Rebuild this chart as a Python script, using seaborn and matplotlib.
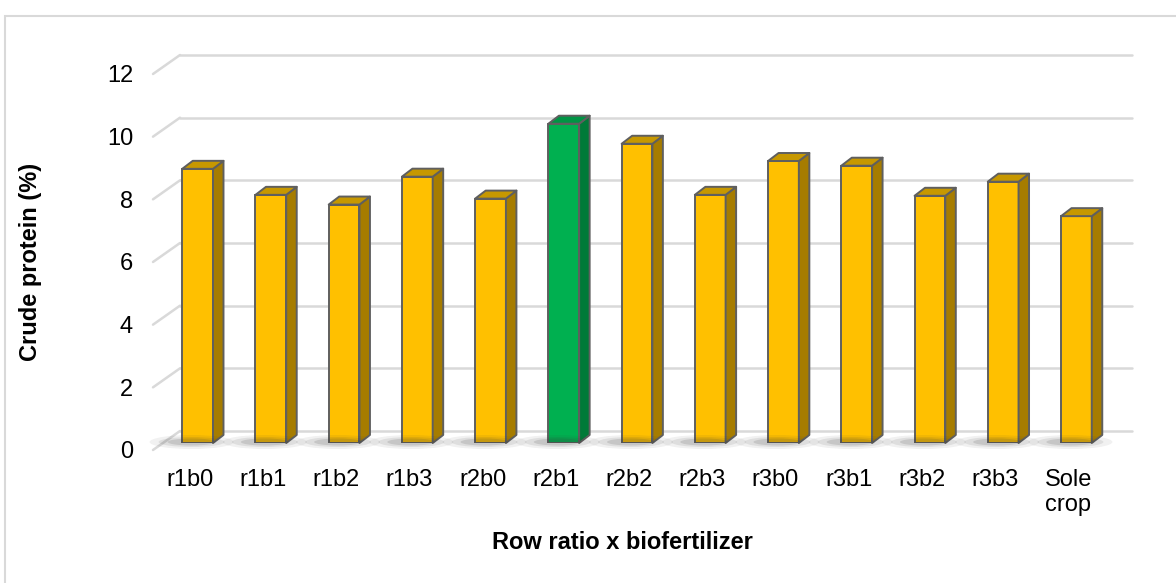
import numpy as np
import pandas as pd
import matplotlib.pyplot as plt
import seaborn as sns
from matplotlib.patches import Polygon, Ellipse, Rectangle
from matplotlib.transforms import ScaledTranslation, IdentityTransform

# data
categories = ['r1b0', 'r1b1', 'r1b2', 'r1b3', 'r2b0', 'r2b1', 'r2b2',
              'r2b3', 'r3b0', 'r3b1', 'r3b2', 'r3b3', 'Sole\ncrop']
protein = [8.75, 7.92, 7.61, 8.50, 7.80, 10.19, 9.55, 7.92, 9.00, 8.85, 7.89, 8.34, 7.24]
highlight = 'r2b1'
yticks = [0, 2, 4, 6, 8, 10, 12]

sns.set_theme(style='white')
plt.rcParams['font.family'] = ['Liberation Sans', 'DejaVu Sans']

W, H, DPI = 1176, 583, 100
fig = plt.figure(figsize=(W / DPI, H / DPI), dpi=DPI)
ax = fig.add_axes([161 / W, 1 - 443 / H, 952 / W, 376 / H])

face = {c: ('#00B050' if c == highlight else '#FFC000') for c in categories}
side = {c: ('#007A38' if c == highlight else '#A67C00') for c in categories}
top = {c: ('#009444' if c == highlight else '#C79800') for c in categories}

df = pd.DataFrame({'treatment': categories, 'protein': protein})
sns.barplot(data=df, x='treatment', y='protein', hue='treatment', palette=face,
            saturation=1, legend=False, width=0.42, edgecolor='#5f5f5f',
            linewidth=1.4, ax=ax, zorder=3)
ax.set_xlim(-0.5, 12.5)
ax.set_ylim(0, 12)
for s in ax.spines.values():
    s.set_visible(False)

# pseudo 3d offsets (pixels)
back = (19, 12)
front = (-8, -7)
depth = (10.5, 8)
grid_c = '#d9d9d9'

def disp(x, y):
    return ax.transData.transform((x, y))

ident = IdentityTransform()

# back wall grid + left slanted lines
for y in yticks:
    bx = ax.transData + ScaledTranslation(back[0] / DPI, back[1] / DPI, fig.dpi_scale_trans)
    ax.plot([-0.5, 12.5], [y, y], transform=bx, color=grid_c, lw=1.8,
            clip_on=False, zorder=0)
    p = disp(-0.5, y)
    ax.plot([p[0] + front[0], p[0] + back[0]], [p[1] + front[1], p[1] + back[1]],
            transform=ident, color=grid_c, lw=1.8, clip_on=False, zorder=0)

# shadows, sides and tops of the bars
bars = sorted(ax.patches, key=lambda b: b.get_x())
for b, c in zip(bars, categories):
    x0, x1, h = b.get_x(), b.get_x() + b.get_width(), b.get_height()
    X0, Y0 = disp(x0, 0)
    X1, Yh = disp(x1, h)
    cx = (X0 + X1) / 2
    for w, hh, a in [(84, 14, 0.07), (66, 10, 0.10), (48, 7, 0.14)]:
        fig.patches.append(Ellipse((cx - 6, Y0 + 1), w, hh, transform=ident,
                                   color='#3a3a3a', alpha=a, lw=0, zorder=1))
    sp = [(X1, Y0), (X1, Yh), (X1 + depth[0], Yh + depth[1]), (X1 + depth[0], Y0 + depth[1])]
    tp = [(X0, Yh), (X1, Yh), (X1 + depth[0], Yh + depth[1]), (X0 + depth[0], Yh + depth[1])]
    for pts, col in [(sp, side[c]), (tp, top[c])]:
        ax.add_patch(Polygon(pts, closed=True, transform=ident, facecolor=col,
                             edgecolor='#5f5f5f', lw=1.4, clip_on=False,
                             zorder=3, joinstyle='round'))

# ticks on the front plane
ax.set_yticks(yticks)
ax.set_yticklabels([str(v) for v in yticks])
ax.tick_params(axis='y', length=0, pad=14.4, labelsize=17, labelcolor='black')
ax.tick_params(axis='x', length=0, pad=13.5, labelsize=17, labelcolor='black')
off = ScaledTranslation(front[0] / DPI, front[1] / DPI, fig.dpi_scale_trans)
for t in ax.yaxis.get_major_ticks() + ax.xaxis.get_major_ticks():
    t.label1.set_transform(t.label1.get_transform() + off)

ax.set_ylabel('Crude protein (%)', fontsize=17, fontweight='bold', color='black')
ax.yaxis.set_label_coords((42 - 161) / 952, (443 - 262) / 376)
ax.set_xlabel('Row ratio x biofertilizer', fontsize=17, fontweight='bold', color='black')
ax.xaxis.set_label_coords((622 - 161) / 952, (443 - 531) / 376)

# outer chart frame
fig.patches.append(Rectangle((5 / W, -0.1), 1.2, 1 - 16 / H + 0.1, transform=fig.transFigure,
                             fill=False, edgecolor='#d9d9d9', lw=1.5, zorder=0))

fig.savefig('out.png', dpi=DPI)
